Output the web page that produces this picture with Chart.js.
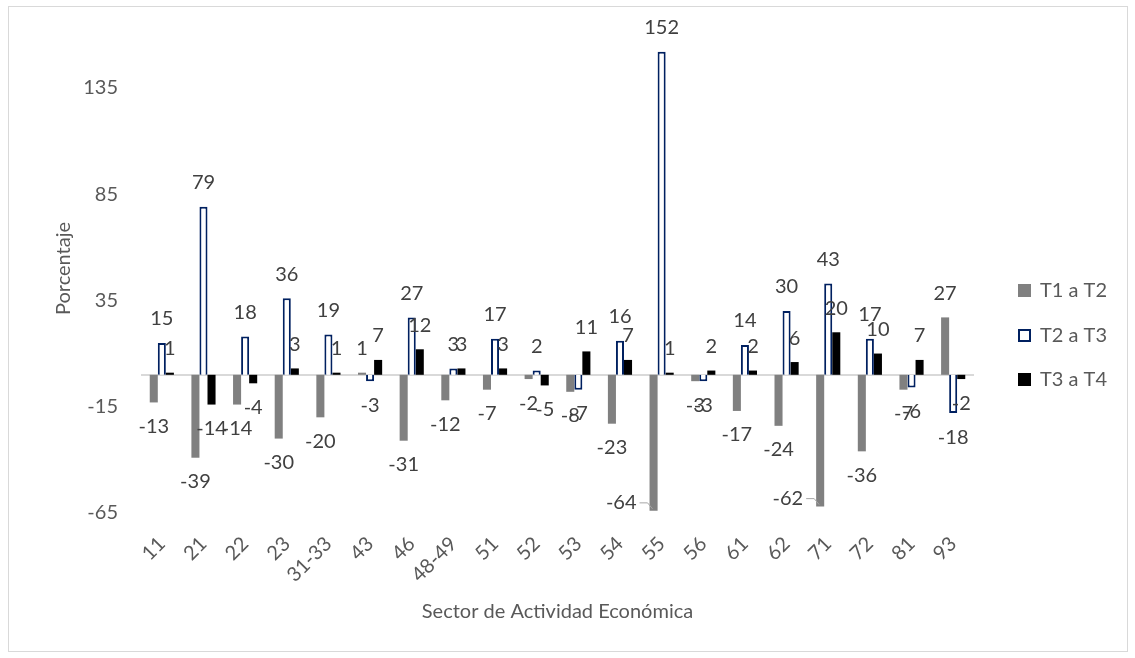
<!DOCTYPE html>
<html>
<head>
<meta charset="utf-8">
<script src="https://cdn.jsdelivr.net/npm/chart.js@4.4.0/dist/chart.umd.min.js"></script>
<style>
    html, body { margin: 0; padding: 0; background: #fff; }
    #wrap { position: relative; width: 1135px; height: 658px; }
    #wrap canvas { position: absolute; left: 0; top: 0; }
    #frame { position: absolute; left: 8px; top: 6px; width: 1118px; height: 644px; border: 1px solid #D9D9D9; pointer-events: none; }
</style>
</head>
<body>
<div id="wrap">
    <canvas id="sector-chart" width="1135" height="658"></canvas>
    <div id="frame"></div>
</div>
<script>
// Values
const sectors = ['11', '21', '22', '23', '31-33', '43', '46', '48-49', '51', '52',
                 '53', '54', '55', '56', '61', '62', '71', '72', '81', '93'];
const t1aT2 = [-13, -39, -14, -30, -20, 1, -31, -12, -7, -2, -8, -23, -64, -3, -17, -24, -62, -36, -7, 27];
const t2aT3 = [15, 79, 18, 36, 19, -3, 27, 3, 17, 2, -7, 16, 152, -3, 14, 30, 43, 17, -6, -18];
const t3aT4 = [1, -14, -4, 3, 1, 7, 12, 3, 3, -5, 11, 7, 1, 2, 2, 6, 20, 10, 7, -2];
const yTicks = [-65, -15, 35, 85, 135];

const TEXT_COLOR = '#595959';
const LABEL_COLOR = '#404040';
const FONT = 'Lato';
const FONT_SIZE = 20;

// Light gray line at zero (Excel's horizontal axis crosses at 0)
const zeroLine = {
    id: 'zeroLine',
    beforeDatasetsDraw(chart) {
        const { ctx, chartArea } = chart;
        const y = Math.round(chart.scales.y.getPixelForValue(0));
        ctx.save();
        ctx.strokeStyle = '#D9D9D9';
        ctx.lineWidth = 2;
        ctx.beginPath();
        ctx.moveTo(chartArea.left, y);
        ctx.lineTo(chartArea.right, y);
        ctx.stroke();
        ctx.restore();
    }
};

// Data labels at the outside end of every bar
const valueLabels = {
    id: 'valueLabels',
    afterDatasetsDraw(chart) {
        const { ctx, chartArea } = chart;
        ctx.save();
        ctx.font = `${FONT_SIZE}px ${FONT}`;
        ctx.fillStyle = LABEL_COLOR;
        ctx.textBaseline = 'middle';
        chart.data.datasets.forEach((ds, di) => {
            chart.getDatasetMeta(di).data.forEach((bar, i) => {
                const v = ds.data[i];
                let y = v >= 0 ? bar.y - 24 : bar.y + 24;
                if (y > chartArea.bottom - 8) {
                    // no room under the bar: put it to the left with a leader line
                    y = bar.y - 8;
                    ctx.textAlign = 'right';
                    ctx.fillText(String(v), bar.x - 17, y);
                    ctx.strokeStyle = '#A6A6A6';
                    ctx.lineWidth = 1;
                    ctx.beginPath();
                    ctx.moveTo(bar.x - 14, y);
                    ctx.lineTo(bar.x - 6, y);
                    ctx.lineTo(bar.x - 1, bar.y - 2);
                    ctx.stroke();
                    return;
                }
                ctx.textAlign = 'center';
                ctx.fillText(String(v), bar.x, y);
            });
        });
        ctx.restore();
    }
};

// Legend on the right, drawn at Excel's spots
const sideLegend = {
    id: 'sideLegend',
    afterDraw(chart) {
        const { ctx } = chart;
        const rows = [290, 335, 379];
        ctx.save();
        ctx.font = `${FONT_SIZE}px ${FONT}`;
        ctx.textBaseline = 'middle';
        ctx.textAlign = 'left';
        chart.data.datasets.forEach((ds, di) => {
            const y = rows[di];
            ctx.fillStyle = ds.backgroundColor;
            ctx.fillRect(1018, y - 6, 13, 13);
            if (ds.borderWidth) {
                ctx.strokeStyle = ds.borderColor;
                ctx.lineWidth = 2;
                ctx.strokeRect(1019, y - 5, 11, 11);
            }
            ctx.fillStyle = TEXT_COLOR;
            ctx.fillText(ds.label, 1040, y + 1);
        });
        ctx.restore();
    }
};

const ctx = document.getElementById('sector-chart').getContext('2d');
new Chart(ctx, {
    type: 'bar',
    data: {
        labels: sectors,
        datasets: [
            { label: 'T1 a T2', data: t1aT2, backgroundColor: '#808080', borderWidth: 0 },
            { label: 'T2 a T3', data: t2aT3, backgroundColor: '#FFFFFF', borderColor: '#002060', borderWidth: 2 },
            { label: 'T3 a T4', data: t3aT4, backgroundColor: '#000000', borderWidth: 0 }
        ]
    },
    options: {
        responsive: false,
        animation: false,
        events: [],
        layout: { padding: { top: 24, right: 161, bottom: 10, left: 40 } },
        datasets: { bar: { categoryPercentage: 0.58, barPercentage: 1 } },
        plugins: { legend: { display: false }, tooltip: { enabled: false }, title: { display: false } },
        scales: {
            x: {
                grid: { display: false, drawTicks: false },
                border: { display: false },
                afterFit: (scale) => { scale.height = 135; },
                ticks: {
                    color: TEXT_COLOR,
                    font: { family: FONT, size: FONT_SIZE },
                    autoSkip: false,
                    maxRotation: 45,
                    minRotation: 45,
                    padding: 19
                },
                title: {
                    display: true,
                    text: 'Sector de Actividad Económica',
                    color: TEXT_COLOR,
                    font: { family: FONT, size: FONT_SIZE },
                    padding: { top: 0, bottom: 24 }
                }
            },
            y: {
                min: -65,
                max: 165,
                afterBuildTicks: (scale) => { scale.ticks = yTicks.map(v => ({ value: v })); },
                afterFit: (scale) => {
                    scale.width = 101;
                    // tick padding only pushes the labels sideways, not the plot top
                    scale.paddingTop = 0;
                    scale.paddingBottom = 0;
                },
                grid: { display: false, drawTicks: false },
                border: { display: false },
                ticks: {
                    color: TEXT_COLOR,
                    font: { family: FONT, size: FONT_SIZE },
                    padding: 23
                },
                title: {
                    display: true,
                    text: 'Porcentaje',
                    color: TEXT_COLOR,
                    font: { family: FONT, size: FONT_SIZE },
                    padding: { top: 12, bottom: 0 }
                }
            }
        }
    },
    plugins: [zeroLine, valueLabels, sideLegend]
});
</script>
</body>
</html>
